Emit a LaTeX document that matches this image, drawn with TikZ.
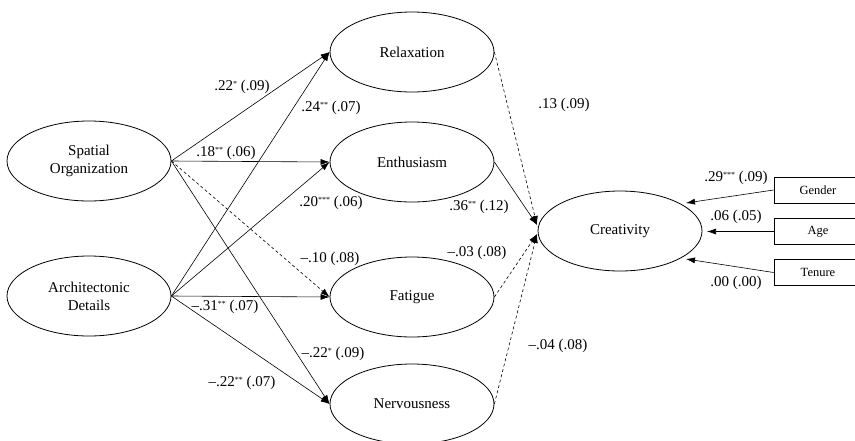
\documentclass[tikz,border=0pt]{standalone}
\usepackage{fontspec}
\setmainfont{Liberation Serif}
\usetikzlibrary{shapes.geometric,arrows.meta}
\newcommand{\sg}[1]{\raisebox{0.55ex}{\fontsize{8}{8}\selectfont #1}}
\tikzset{
  lat/.style={ellipse,draw,line width=0.8pt,minimum width=164pt,minimum height=80pt,inner sep=0pt,align=center,font=\fontsize{15}{18}\selectfont},
  ctrl/.style={rectangle,draw,line width=0.8pt,minimum width=88pt,minimum height=26pt,inner sep=0pt,font=\fontsize{12.5}{14}\selectfont},
  path/.style={line width=0.6pt,-{Latex[length=9pt,width=6pt]}},
  ns/.style={path,dash pattern=on 3pt off 2.5pt},
  lbl/.style={inner sep=0pt,font=\fontsize{15}{18}\selectfont}
}
\begin{document}
\begin{tikzpicture}[x=1pt,y=-1pt]
\clip (0,0) rectangle (855,440);
\fill[white] (0,0) rectangle (855,440);
% latent variables
\node[lat] (so) at (89,161) {Spatial\\Organization};
\node[lat] (ad) at (89,296) {Architectonic\\Details};
\node[lat] (rel) at (412,52) {Relaxation};
\node[lat] (ent) at (412,162) {Enthusiasm};
\node[lat] (fat) at (412,297) {Fatigue};
\node[lat] (ner) at (412,404) {Nervousness};
\node[lat] (cre) at (620,231) {Creativity};
% controls
\node[ctrl] (gen) at (818,190) {Gender};
\node[ctrl] (age) at (818,231.5) {Age};
\node[ctrl] (ten) at (818,272.5) {Tenure};
% coordinates for arrow ends at Creativity
\coordinate (cu) at (537,225);
\coordinate (cl) at (537,234);
\coordinate (cg) at (686,203);
\coordinate (ca) at (707,231.5);
\coordinate (ct) at (686,259);
% paths from spatial organization
\draw[path] (so.east) -- (rel.west);
\draw[path] (so.east) -- (ent.west);
\draw[ns] (so.east) -- (fat.west);
\draw[path] (so.east) -- (ner.west);
% paths from architectonic details
\draw[path] (ad.east) -- (rel.west);
\draw[path] (ad.east) -- (ent.west);
\draw[path] (ad.east) -- (fat.west);
\draw[path] (ad.east) -- (ner.west);
% mediators to creativity
\draw[ns] (rel.east) -- (cu);
\draw[path] (ent.east) -- (cu);
\draw[ns] (fat.east) -- (cl);
\draw[ns] (ner.east) -- (cl);
% controls
\draw[path] (gen.west) -- (cg);
\draw[path] (age.west) -- (ca);
\draw[path] (ten.west) -- (ct);
% labels
\node[lbl] (l1) at (242,87) {.22\sg{*} (.09)};
\node[lbl] (l2) at (226,153) {.18\sg{**} (.06)};
\node[lbl] (l3) at (331,108) {.24\sg{**} (.07)};
\node[lbl] (l4) at (331,203) {.20\sg{***} (.06)};
\node[lbl] (l5) at (330,259) {--.10 (.08)};
\node[lbl] (l6) at (225,307) {--.31\sg{**} (.07)};
\node[lbl] (l7) at (333,354) {--.22\sg{*} (.09)};
\node[lbl] (l8) at (242,383) {--.22\sg{**} (.07)};
\node[lbl] (l9) at (564,105) {.13 (.09)};
\node[lbl] (l10) at (479,207) {.36\sg{**} (.12)};
\node[lbl] (l11) at (477,253) {--.03 (.08)};
\node[lbl] (l12) at (558,346) {--.04 (.08)};
\node[lbl] (l13) at (736,178) {.29\sg{***} (.09)};
\node[lbl] (l14) at (736,217) {.06 (.05)};
\node[lbl] (l15) at (736,283) {.00 (.00)};
\end{tikzpicture}
\end{document}
